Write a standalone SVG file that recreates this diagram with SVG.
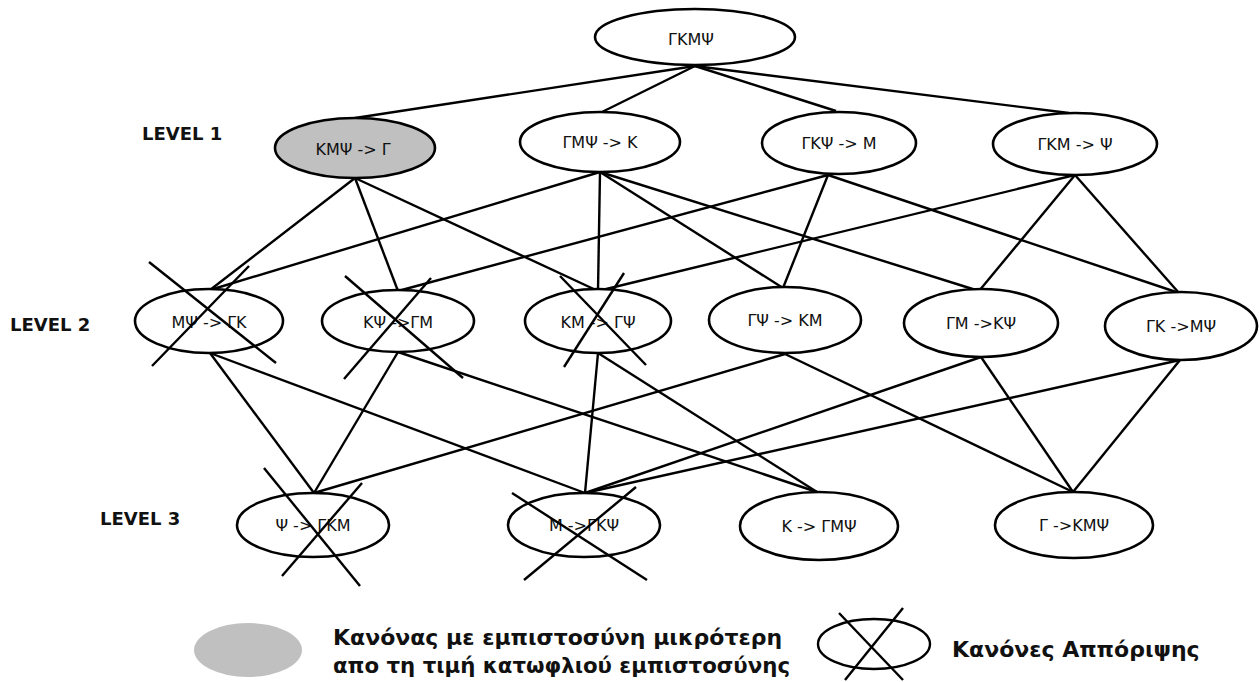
<svg xmlns="http://www.w3.org/2000/svg" width="1259" height="682" viewBox="0 0 1259 682">
<style>
.n ellipse{fill:#fff;stroke:#000;stroke-width:2.6}
.n text{font-family:"DejaVu Sans",Verdana,sans-serif;font-size:16px;fill:#111;text-anchor:middle}
.gray ellipse{fill:#c0c0c0}
.edges line{stroke:#000;stroke-width:2.4}
.x line{stroke:#000;stroke-width:2.4}
.lvl{font-family:"DejaVu Sans",Verdana,sans-serif;font-weight:bold;font-size:18px;fill:#111}
.leg{font-family:"DejaVu Sans",Verdana,sans-serif;font-weight:bold;font-size:22px;fill:#111}
</style>
<rect width="1259" height="682" fill="#fff"/>
<g class="edges">
<line x1="695" y1="66" x2="355" y2="118"/>
<line x1="695" y1="66" x2="602" y2="112"/>
<line x1="695" y1="66" x2="836" y2="111"/>
<line x1="695" y1="66" x2="1069" y2="113"/>
<line x1="355" y1="178" x2="210" y2="290"/>
<line x1="355" y1="178" x2="398" y2="291"/>
<line x1="355" y1="178" x2="598" y2="291"/>
<line x1="600" y1="172" x2="210" y2="290"/>
<line x1="600" y1="172" x2="598" y2="291"/>
<line x1="600" y1="172" x2="783" y2="288"/>
<line x1="600" y1="172" x2="979" y2="291"/>
<line x1="828" y1="175" x2="398" y2="291"/>
<line x1="828" y1="175" x2="783" y2="288"/>
<line x1="828" y1="175" x2="1179" y2="293"/>
<line x1="1075" y1="175" x2="598" y2="291"/>
<line x1="1075" y1="175" x2="979" y2="291"/>
<line x1="1075" y1="175" x2="1179" y2="293"/>
<line x1="210" y1="353" x2="314" y2="493"/>
<line x1="210" y1="353" x2="585" y2="493"/>
<line x1="398" y1="352" x2="314" y2="493"/>
<line x1="398" y1="352" x2="817" y2="492"/>
<line x1="598" y1="353" x2="585" y2="493"/>
<line x1="598" y1="353" x2="817" y2="492"/>
<line x1="785" y1="354" x2="314" y2="493"/>
<line x1="785" y1="354" x2="1073" y2="492"/>
<line x1="981" y1="357" x2="585" y2="493"/>
<line x1="981" y1="357" x2="1073" y2="492"/>
<line x1="1180" y1="360" x2="585" y2="493"/>
<line x1="1180" y1="360" x2="1073" y2="492"/>
</g>
<g id="n-top" class="n"><ellipse cx="695" cy="37" rx="100" ry="28"/><text x="691" y="45">ΓΚΜΨ</text></g>
<g id="n-kmps" class="n gray"><ellipse cx="355" cy="148" rx="80" ry="30"/><text x="353" y="155">ΚΜΨ -&gt; Γ</text></g>
<g id="n-gmps" class="n"><ellipse cx="600" cy="142" rx="80" ry="30"/><text x="600" y="148">ΓΜΨ -&gt;  Κ</text></g>
<g id="n-gkps" class="n"><ellipse cx="839" cy="143" rx="77" ry="31"/><text x="839" y="149">ΓΚΨ -&gt; Μ</text></g>
<g id="n-gkm" class="n"><ellipse cx="1075" cy="144" rx="82" ry="31"/><text x="1075" y="150">ΓΚΜ -&gt; Ψ</text></g>
<g id="n-mps" class="n"><ellipse cx="209" cy="321" rx="74" ry="32"/><text x="209" y="328">ΜΨ -&gt; ΓΚ</text></g>
<g id="n-kps" class="n"><ellipse cx="398" cy="321" rx="76" ry="31"/><text x="398" y="328">ΚΨ -&gt;ΓΜ</text></g>
<g id="n-km" class="n"><ellipse cx="598" cy="321" rx="73" ry="32"/><text x="598" y="328">ΚΜ -&gt; ΓΨ</text></g>
<g id="n-gps" class="n"><ellipse cx="785" cy="320" rx="76" ry="33"/><text x="785" y="326">ΓΨ -&gt; ΚΜ</text></g>
<g id="n-gm" class="n"><ellipse cx="981" cy="323" rx="77" ry="34"/><text x="981" y="329">ΓΜ -&gt;ΚΨ</text></g>
<g id="n-gk" class="n"><ellipse cx="1181" cy="326" rx="76" ry="34"/><text x="1181" y="332">ΓΚ -&gt;ΜΨ</text></g>
<g id="n-ps" class="n"><ellipse cx="313" cy="525" rx="76" ry="32"/><text x="313" y="531">Ψ -&gt; ΓΚΜ</text></g>
<g id="n-m" class="n"><ellipse cx="584" cy="525" rx="76" ry="32"/><text x="584" y="531">Μ -&gt;ΓΚΨ</text></g>
<g id="n-k" class="n"><ellipse cx="819" cy="526" rx="79" ry="34"/><text x="819" y="532">Κ -&gt; ΓΜΨ</text></g>
<g id="n-g" class="n"><ellipse cx="1074" cy="525" rx="79" ry="33"/><text x="1074" y="531">Γ -&gt;ΚΜΨ</text></g>
<g class="x">
<line x1="149" y1="262" x2="276" y2="363"/><line x1="249" y1="266" x2="152" y2="366"/>
<line x1="345" y1="276" x2="463" y2="378"/><line x1="431" y1="278" x2="344" y2="379"/>
<line x1="560" y1="276" x2="646" y2="365"/><line x1="624" y1="273" x2="564" y2="367"/>
<line x1="264" y1="468" x2="360" y2="586"/><line x1="362" y1="483" x2="282" y2="576"/>
<line x1="512" y1="493" x2="647" y2="580"/><line x1="636" y1="487" x2="524" y2="580"/>
</g>
<text class="lvl" x="142" y="140">LEVEL 1</text>
<text class="lvl" x="10" y="331">LEVEL 2</text>
<text class="lvl" x="100" y="525">LEVEL 3</text>
<g id="legend">
<ellipse cx="248" cy="650" rx="54" ry="27" fill="#c0c0c0"/>
<text class="leg" x="333" y="645">Κανόνας με εμπιστοσύνη μικρότερη</text>
<text class="leg" x="333" y="673" textLength="457" lengthAdjust="spacingAndGlyphs">απο τη τιμή κατωφλιού εμπιστοσύνης</text>
<ellipse cx="874" cy="644" rx="56" ry="25" fill="#fff" stroke="#000" stroke-width="2.4"/>
<line x1="839" y1="613" x2="903" y2="680" stroke="#000" stroke-width="2.4"/>
<line x1="903" y1="608" x2="845" y2="680" stroke="#000" stroke-width="2.4"/>
<text class="leg" x="952" y="657">Κανόνες Αππόριψης</text>
</g>
</svg>
